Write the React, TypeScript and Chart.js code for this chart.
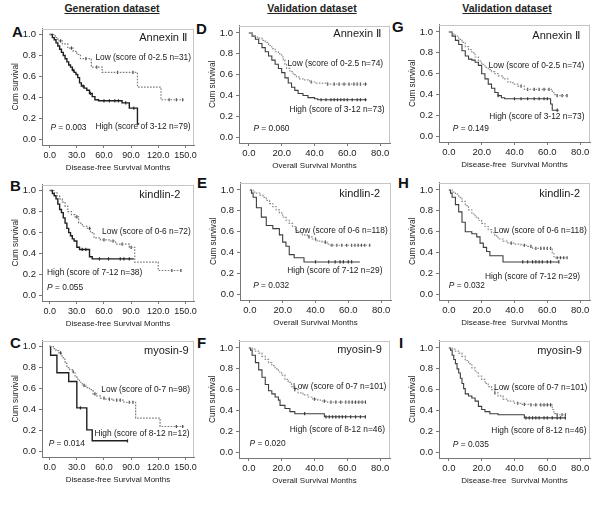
import React, { useEffect, useRef } from "react";
import { Chart, registerables } from "chart.js";

Chart.register(...registerables);

const FONT = 'Arial, "Liberation Sans", Helvetica, sans-serif';

// ---- tick labels ----
const genXTicks = [0, 30, 60, 90, 120, 150];
const valXTicks = [0, 20, 40, 60, 80];
const survTicks = [0, 0.2, 0.4, 0.6, 0.8, 1.0];

// ---- Panel A (Generation, Annexin II) ----
const aLowT = [0, 6, 9, 14, 20, 26, 30, 34, 46, 58, 97, 123, 148];
const aLowS = [1.0, 0.97, 0.94, 0.91, 0.87, 0.84, 0.81, 0.77, 0.69, 0.64, 0.5, 0.38, 0.38];
const aLowC = [12, 24, 40, 52, 75, 92, 132, 140, 147];
const aHighT = [0, 3, 5, 7, 9, 11, 13, 15, 17, 19, 21, 23, 25, 27, 29, 31, 33, 35, 38, 41, 44, 47, 50, 54, 80, 88, 97, 99];
const aHighS = [1.0, 0.97, 0.95, 0.92, 0.89, 0.86, 0.83, 0.8, 0.77, 0.74, 0.71, 0.69, 0.66, 0.64, 0.62, 0.59, 0.54, 0.51, 0.49, 0.47, 0.44, 0.41, 0.38, 0.37, 0.35, 0.3, 0.15, 0.15];
const aHighC = [26, 37, 45, 60, 66, 72, 76, 84, 93];

// ---- Panel B (Generation, kindlin-2) ----
const bLowT = [0, 5, 8, 11, 14, 17, 20, 24, 28, 32, 36, 41, 45, 49, 56, 67, 73, 88, 94, 120, 145];
const bLowS = [1.0, 0.98, 0.95, 0.92, 0.89, 0.85, 0.8, 0.77, 0.75, 0.69, 0.66, 0.64, 0.6, 0.55, 0.53, 0.52, 0.49, 0.46, 0.32, 0.24, 0.24];
const bLowC = [30, 44, 60, 70, 80, 90, 135, 145];
const bHighT = [0, 3, 5, 7, 9, 11, 13, 15, 17, 19, 21, 23, 25, 27, 30, 33, 44, 47, 93];
const bHighS = [1.0, 0.97, 0.95, 0.92, 0.87, 0.82, 0.79, 0.74, 0.69, 0.64, 0.6, 0.57, 0.54, 0.52, 0.46, 0.44, 0.37, 0.35, 0.35];
const bHighC = [36, 40, 55, 65, 78, 82, 88];

// ---- Panel C (Generation, myosin-9) ----
const cLowT = [0, 4, 7, 10, 13, 15, 17, 19, 22, 25, 28, 30, 33, 36, 40, 44, 48, 52, 56, 62, 70, 82, 95, 122, 148];
const cLowS = [1.0, 0.98, 0.96, 0.94, 0.91, 0.88, 0.84, 0.8, 0.78, 0.76, 0.72, 0.69, 0.66, 0.63, 0.61, 0.59, 0.55, 0.53, 0.51, 0.5, 0.49, 0.47, 0.32, 0.24, 0.24];
const cLowC = [12, 26, 38, 50, 60, 66, 74, 78, 88, 92, 140, 147];
const cHighT = [0, 1, 8, 21, 30, 41, 47, 86];
const cHighS = [1.0, 0.917, 0.75, 0.667, 0.417, 0.208, 0.104, 0.104];
const cHighC = [34, 86];

// ---- Panel D (Validation OS, Annexin II) ----
const dLowT = [0, 2, 4, 6, 8, 10, 12, 14, 16, 18, 20, 21, 22, 23, 25, 27, 29, 31, 34, 37, 41, 47, 72];
const dLowS = [1.0, 0.97, 0.96, 0.95, 0.93, 0.91, 0.88, 0.85, 0.82, 0.8, 0.77, 0.74, 0.7, 0.66, 0.63, 0.6, 0.58, 0.56, 0.55, 0.53, 0.52, 0.51, 0.51];
const dLowC = [38, 48, 52, 55, 58, 61, 64, 66, 68, 71];
const dHighT = [0, 2, 4, 6, 8, 10, 12, 14, 16, 18, 20, 22, 24, 26, 28, 30, 33, 36, 40, 42, 72];
const dHighS = [1.0, 0.97, 0.94, 0.9, 0.86, 0.82, 0.78, 0.74, 0.7, 0.66, 0.62, 0.57, 0.52, 0.48, 0.45, 0.42, 0.4, 0.38, 0.37, 0.36, 0.36];
const dHighC = [44, 47, 50, 52, 54, 56, 58, 60, 63, 66, 68, 71];

// ---- Panel E (Validation OS, kindlin-2) ----
const eLowT = [0, 2, 4, 6, 8, 10, 12, 14, 16, 18, 20, 22, 24, 26, 28, 30, 32, 35, 38, 41, 44, 47, 49, 74];
const eLowS = [1.0, 0.98, 0.97, 0.95, 0.93, 0.9, 0.87, 0.84, 0.81, 0.78, 0.74, 0.71, 0.68, 0.65, 0.61, 0.59, 0.57, 0.55, 0.53, 0.51, 0.5, 0.48, 0.47, 0.47];
const eLowC = [36, 40, 46, 50, 53, 56, 59, 62, 64, 66, 68, 70, 73];
const eHighT = [0, 1, 2, 4, 7, 10, 14, 18, 20, 22, 24, 27, 33, 67];
const eHighS = [1.0, 0.97, 0.93, 0.83, 0.74, 0.66, 0.63, 0.57, 0.5, 0.46, 0.38, 0.35, 0.31, 0.31];
const eHighC = [40, 48, 52, 55, 57, 60, 62];

// ---- Panel F (Validation OS, myosin-9) ----
const fLowT = [0, 2, 4, 6, 8, 10, 12, 14, 16, 18, 20, 22, 24, 26, 28, 30, 33, 36, 39, 42, 45, 48, 71];
const fLowS = [1.0, 0.99, 0.97, 0.95, 0.92, 0.89, 0.86, 0.83, 0.8, 0.77, 0.74, 0.7, 0.67, 0.63, 0.6, 0.57, 0.55, 0.53, 0.51, 0.5, 0.49, 0.48, 0.48];
const fLowC = [28, 40, 46, 50, 53, 56, 59, 61, 63, 65, 67, 69, 71];
const fHighT = [0, 1, 2, 4, 6, 8, 10, 12, 14, 16, 18, 19, 22, 25, 28, 46, 71];
const fHighS = [1.0, 0.98, 0.93, 0.86, 0.79, 0.72, 0.65, 0.59, 0.56, 0.53, 0.5, 0.45, 0.42, 0.39, 0.37, 0.34, 0.34];
const fHighC = [34, 47, 49, 51, 53, 55, 57, 59, 62, 65, 68, 71];

// ---- Panel G (Validation DFS, Annexin II) ----
const gLowT = [0, 2, 4, 6, 8, 10, 12, 14, 16, 18, 20, 22, 24, 26, 28, 30, 33, 36, 39, 42, 46, 63, 64, 65, 72];
const gLowS = [1.0, 0.98, 0.96, 0.93, 0.9, 0.86, 0.83, 0.8, 0.76, 0.72, 0.69, 0.66, 0.64, 0.62, 0.6, 0.58, 0.55, 0.52, 0.5, 0.48, 0.45, 0.43, 0.4, 0.39, 0.39];
const gLowC = [44, 48, 52, 55, 58, 61, 66, 69, 72];
const gHighT = [0, 2, 4, 6, 8, 10, 12, 14, 16, 18, 20, 22, 24, 26, 28, 30, 32, 34, 62, 63, 67];
const gHighS = [1.0, 0.96, 0.92, 0.88, 0.82, 0.77, 0.74, 0.73, 0.71, 0.68, 0.6, 0.55, 0.5, 0.46, 0.42, 0.39, 0.37, 0.36, 0.31, 0.25, 0.25];
const gHighC = [30, 40, 44, 48, 52, 55, 58, 60, 66];

// ---- Panel H (Validation DFS, kindlin-2) ----
const hLowT = [0, 2, 4, 6, 8, 10, 12, 14, 16, 18, 20, 22, 24, 26, 28, 30, 33, 36, 40, 44, 48, 51, 63, 64, 65, 72];
const hLowS = [1.0, 0.98, 0.96, 0.93, 0.89, 0.85, 0.81, 0.77, 0.74, 0.71, 0.68, 0.65, 0.62, 0.59, 0.56, 0.53, 0.51, 0.49, 0.48, 0.47, 0.46, 0.44, 0.4, 0.36, 0.35, 0.35];
const hLowC = [38, 46, 50, 53, 56, 58, 60, 62, 66, 68, 70, 72];
const hHighT = [0, 1, 2, 4, 6, 8, 10, 14, 17, 19, 21, 23, 25, 33, 67];
const hHighS = [1.0, 0.97, 0.93, 0.86, 0.79, 0.69, 0.6, 0.58, 0.55, 0.49, 0.45, 0.41, 0.37, 0.31, 0.31];
const hHighC = [45, 48, 51, 53, 55, 57, 60, 62, 67];

// ---- Panel I (Validation DFS, myosin-9) ----
const iLowT = [0, 2, 4, 6, 8, 10, 12, 14, 16, 18, 20, 22, 24, 26, 28, 30, 33, 36, 40, 44, 50, 63, 64, 65, 71];
const iLowS = [1.0, 0.99, 0.97, 0.95, 0.92, 0.88, 0.85, 0.81, 0.77, 0.73, 0.7, 0.66, 0.63, 0.6, 0.57, 0.54, 0.51, 0.49, 0.47, 0.46, 0.455, 0.41, 0.37, 0.36, 0.36];
const iLowC = [28, 42, 46, 50, 53, 56, 58, 60, 62, 66, 69, 71];
const iHighT = [0, 1, 2, 3, 4, 5, 6, 7, 8, 9, 10, 12, 14, 16, 18, 20, 22, 25, 30, 46, 71];
const iHighS = [1.0, 0.98, 0.93, 0.89, 0.85, 0.8, 0.76, 0.71, 0.66, 0.61, 0.56, 0.54, 0.52, 0.49, 0.44, 0.41, 0.39, 0.37, 0.36, 0.33, 0.33];
const iHighC = [47, 49, 51, 53, 55, 58, 60, 63, 66, 68, 71];

type Pos = [number, number];
interface PanelDef {
  letter: string;
  gen: boolean;
  xTitle: string;
  lowT: number[]; lowS: number[]; lowC: number[];
  highT: number[]; highS: number[]; highC: number[];
  gene: string; lowLabel: string; highLabel: string; pText: string;
  L: number; T: number;
  letterLeft: number; letterTop: number;
  genePos: Pos; lowPos: Pos; highPos: Pos; pPos: Pos;
}

const panels: PanelDef[] = [
  { letter: "A", gen: true, xTitle: "Disease-free Survival Months", lowT: aLowT, lowS: aLowS, lowC: aLowC, highT: aHighT, highS: aHighS, highC: aHighC,
    gene: "Annexin \u2161", lowLabel: "Low (score of 0-2.5 n=31)", highLabel: "High (score of 3-12 n=79)", pText: "P = 0.003",
    L: 42, T: 28, letterLeft: 12, letterTop: 24, genePos: [151.8, 0.97], lowPos: [50.5, 0.78], highPos: [50.5, 0.125], pPos: [0.8, 0.11] },
  { letter: "B", gen: true, xTitle: "Disease-free Survival Months", lowT: bLowT, lowS: bLowS, lowC: bLowC, highT: bHighT, highS: bHighS, highC: bHighC,
    gene: "kindlin-2", lowLabel: "Low (score of 0-6 n=72)", highLabel: "High (score of 7-12 n=38)", pText: "P = 0.055",
    L: 42, T: 184, letterLeft: 10, letterTop: 178, genePos: [144.4, 0.96], lowPos: [57.9, 0.605], highPos: [-2.9, 0.22], pPos: [-2.9, 0.073] },
  { letter: "C", gen: true, xTitle: "Disease-free Survival Months", lowT: cLowT, lowS: cLowS, lowC: cLowC, highT: cHighT, highS: cHighS, highC: cHighC,
    gene: "myosin-9", lowLabel: "Low (score of 0-7 n=98)", highLabel: "High (score of 8-12 n=12)", pText: "P = 0.014",
    L: 42, T: 340, letterLeft: 10, letterTop: 335, genePos: [153.6, 0.96], lowPos: [57.1, 0.593], highPos: [49.4, 0.167], pPos: [-1.1, 0.079] },
  { letter: "D", gen: false, xTitle: "Overall Survival Months", lowT: dLowT, lowS: dLowS, lowC: dLowC, highT: dHighT, highS: dHighS, highC: dHighC,
    gene: "Annexin \u2161", lowLabel: "Low (score of 0-2.5 n=74)", highLabel: "High (score of 3-12 n=73)", pText: "P = 0.060",
    L: 239, T: 25, letterLeft: 196, letterTop: 21, genePos: [80.6, 0.99], lowPos: [23.5, 0.705], highPos: [24.7, 0.26], pPos: [2.8, 0.079] },
  { letter: "E", gen: false, xTitle: "Overall Survival Months", lowT: eLowT, lowS: eLowS, lowC: eLowC, highT: eHighT, highS: eHighS, highC: eHighC,
    gene: "kindlin-2", lowLabel: "Low (score of 0-6 n=118)", highLabel: "High (score of 7-12 n=29)", pText: "P = 0.032",
    L: 240, T: 182, letterLeft: 197, letterTop: 175, genePos: [79.4, 0.965], lowPos: [27.5, 0.613], highPos: [22.8, 0.226], pPos: [2.0, 0.085] },
  { letter: "F", gen: false, xTitle: "Overall Survival Months", lowT: fLowT, lowS: fLowS, lowC: fLowC, highT: fHighT, highS: fHighS, highC: fHighC,
    gene: "myosin-9", lowLabel: "Low (score of 0-7 n=101)", highLabel: "High (score of 8-12 n=46)", pText: "P = 0.020",
    L: 239, T: 340, letterLeft: 197, letterTop: 335, genePos: [81, 0.98], lowPos: [26.9, 0.627], highPos: [24.9, 0.22], pPos: [0.4, 0.079] },
  { letter: "G", gen: false, xTitle: "Disease-free  Survival Months", lowT: gLowT, lowS: gLowS, lowC: gLowC, highT: gHighT, highS: gHighS, highC: gHighC,
    gene: "Annexin \u2161", lowLabel: "Low (score of 0-2.5 n=74)", highLabel: "High (score of 3-12 n=73)", pText: "P = 0.149",
    L: 439, T: 24, letterLeft: 392, letterTop: 19, genePos: [80, 0.96], lowPos: [24.2, 0.678], highPos: [24.6, 0.19], pPos: [2.4, 0.075] },
  { letter: "H", gen: false, xTitle: "Disease-free  Survival Months", lowT: hLowT, lowS: hLowS, lowC: hLowC, highT: hHighT, highS: hHighS, highC: hHighC,
    gene: "kindlin-2", lowLabel: "Low (score of 0-6 n=118)", highLabel: "High (score of 7-12 n=29)", pText: "P = 0.032",
    L: 439, T: 182, letterLeft: 398, letterTop: 175, genePos: [80, 0.96], lowPos: [27.5, 0.607], highPos: [22, 0.165], pPos: [0, 0.087] },
  { letter: "I", gen: false, xTitle: "Disease-free  Survival Months", lowT: iLowT, lowS: iLowS, lowC: iLowC, highT: iHighT, highS: iHighS, highC: iHighC,
    gene: "myosin-9", lowLabel: "Low (score of 0-7 n=101)", highLabel: "High (score of 8-12 n=46)", pText: "P = 0.035",
    L: 439, T: 340, letterLeft: 399, letterTop: 335, genePos: [81, 0.97], lowPos: [27.5, 0.619], highPos: [25.9, 0.21], pPos: [2.4, 0.073] },
];

const headers = [
  { text: "Generation dataset", center: 112 },
  { text: "Validation dataset", center: 312 },
  { text: "Validation dataset", center: 507 },
];

// layout constants
const AXIS_W = 42;
const AXIS_H = 30;
const PAD_T = 8;
const PAD_R = 8;

function stepValue(T: number[], S: number[], t: number): number {
  let v = S[0];
  for (let i = 0; i < T.length; i++) if (T[i] <= t) v = S[i];
  return v;
}

function KMPanel({ p }: { p: PanelDef }) {
  const ref = useRef<HTMLCanvasElement | null>(null);
  const boxW = p.gen ? 152 : 151;
  const boxH = p.gen ? 117 : 118;
  const W = AXIS_W + boxW + PAD_R;
  const H = PAD_T + boxH + AXIS_H;

  useEffect(() => {
    const canvas = ref.current;
    if (!canvas) return;
    const xMin = p.gen ? -8.5 : -6;
    const xMax = p.gen ? 159.5 : 86;
    const yMin = p.gen ? -0.05 : -0.055;
    const yMax = p.gen ? 1.055 : 1.07;
    const xTicks = p.gen ? genXTicks : valXTicks;

    const overlay = {
      id: "kmOverlay",
      beforeDatasetsDraw(chart: any) {
        const { ctx, chartArea: a } = chart;
        ctx.save();
        ctx.strokeStyle = "#c6c6c6";
        ctx.lineWidth = 1;
        ctx.beginPath();
        ctx.moveTo(a.left, Math.round(a.top) + 0.5);
        ctx.lineTo(a.right, Math.round(a.top) + 0.5);
        ctx.moveTo(Math.round(a.right) - 0.5, a.top);
        ctx.lineTo(Math.round(a.right) - 0.5, a.bottom);
        ctx.stroke();
        ctx.restore();
      },
      afterDatasetsDraw(chart: any) {
        const { ctx } = chart;
        const xs = chart.scales.x;
        const ys = chart.scales.y;
        ctx.save();
        ctx.fillStyle = "#1a1a1a";
        ctx.textBaseline = "middle";
        const put = (txt: string, pos: Pos, align: CanvasTextAlign, size: number) => {
          ctx.font = `${size}px ${FONT}`;
          ctx.textAlign = align;
          ctx.fillText(txt, xs.getPixelForValue(pos[0]), ys.getPixelForValue(pos[1]));
        };
        put(p.gene, p.genePos, "right", 11);
        put(p.lowLabel, p.lowPos, "left", 8.4);
        put(p.highLabel, p.highPos, "left", 8.4);
        // P value with italic P
        const px = xs.getPixelForValue(p.pPos[0]);
        const py = ys.getPixelForValue(p.pPos[1]);
        ctx.textAlign = "left";
        ctx.font = `italic 8.4px ${FONT}`;
        ctx.fillText(p.pText.charAt(0), px, py);
        const w = ctx.measureText(p.pText.charAt(0)).width;
        ctx.font = `8.4px ${FONT}`;
        ctx.fillText(p.pText.slice(1), px + w, py);
        ctx.restore();
      },
    };

    const lowPts = p.lowT.map((t, i) => ({ x: t, y: p.lowS[i] }));
    const highPts = p.highT.map((t, i) => ({ x: t, y: p.highS[i] }));
    const lowCens = p.lowC.map((t) => ({ x: t, y: stepValue(p.lowT, p.lowS, t) }));
    const highCens = p.highC.map((t) => ({ x: t, y: stepValue(p.highT, p.highS, t) }));

    const chart = new Chart(canvas, {
      type: "line",
      data: {
        datasets: [
          {
            data: lowPts as any,
            stepped: true,
            borderColor: p.gen ? "#7a7a7a" : "#8c8c8c",
            borderWidth: 1.2,
            borderDash: [1.6, 1.4],
            pointRadius: 0,
            fill: false,
          },
          {
            data: highPts as any,
            stepped: true,
            borderColor: p.gen ? "#1e1e1e" : "#3e3e3e",
            borderWidth: p.gen ? 1.4 : 1.1,
            pointRadius: 0,
            fill: false,
          },
          {
            data: lowCens as any,
            showLine: false,
            pointStyle: "line",
            rotation: 90,
            pointRadius: 1.6,
            pointBorderWidth: 1.2,
            pointBorderColor: "#444",
            borderColor: "#444",
          },
          {
            data: highCens as any,
            showLine: false,
            pointStyle: "line",
            rotation: 90,
            pointRadius: 1.6,
            pointBorderWidth: 1.2,
            pointBorderColor: "#333",
            borderColor: "#333",
          },
        ],
      },
      options: {
        animation: false,
        responsive: false,
        maintainAspectRatio: false,
        events: [],
        layout: { padding: { top: PAD_T, right: PAD_R, left: 0, bottom: 0 } },
        plugins: { legend: { display: false }, tooltip: { enabled: false } },
        scales: {
          x: {
            type: "linear",
            min: xMin,
            max: xMax,
            afterBuildTicks: (scale: any) => {
              scale.ticks = xTicks.map((v) => ({ value: v }));
            },
            afterFit: (scale: any) => {
              scale.height = AXIS_H;
            },
            ticks: {
              autoSkip: false,
              maxRotation: 0,
              padding: 2,
              color: "#222",
              font: { family: FONT, size: p.gen ? 9 : 9.5 },
              callback: (v: any) => Number(v).toFixed(1),
            },
            grid: { drawOnChartArea: false, drawTicks: true, tickLength: 3, color: "#777" },
            border: { display: true, color: "#777", width: 1 },
            title: {
              display: true,
              text: p.xTitle,
              color: "#222",
              font: { family: FONT, size: 8 },
              padding: { top: 0, bottom: 2.4 },
            },
          },
          y: {
            type: "linear",
            min: yMin,
            max: yMax,
            afterBuildTicks: (scale: any) => {
              scale.ticks = survTicks.map((v) => ({ value: v }));
            },
            afterFit: (scale: any) => {
              scale.width = AXIS_W;
            },
            ticks: {
              autoSkip: false,
              padding: 3,
              color: "#222",
              font: { family: FONT, size: 9.5 },
              callback: (v: any) => Number(v).toFixed(1),
            },
            grid: { drawOnChartArea: false, drawTicks: true, tickLength: 3, color: "#777" },
            border: { display: true, color: "#777", width: 1 },
            title: {
              display: true,
              text: "Cum survival",
              color: "#222",
              font: { family: FONT, size: 8.2 },
              padding: { top: 11, bottom: 0 },
            },
          },
        },
      },
      plugins: [overlay],
    } as any);
    return () => chart.destroy();
  }, []);

  return (
    <canvas
      ref={ref}
      width={W}
      height={H}
      style={{ position: "absolute", left: p.L - AXIS_W, top: p.T - PAD_T, width: W, height: H }}
    />
  );
}

export default function App() {
  return (
    <div
      style={{
        position: "absolute",
        left: 0,
        top: 0,
        width: 600,
        height: 512,
        background: "#fff",
        overflow: "hidden",
        fontFamily: FONT,
      }}
    >
      {headers.map((h, i) => (
        <div
          key={"h" + i}
          style={{
            position: "absolute",
            left: h.center - 70,
            width: 140,
            top: 2,
            textAlign: "center",
            fontSize: 10.5,
            lineHeight: "13px",
            fontWeight: "bold",
            color: "#222",
            textDecoration: "underline",
          }}
        >
          {h.text}
        </div>
      ))}
      {panels.map((p) => (
        <div
          key={"l" + p.letter}
          style={{
            position: "absolute",
            left: p.letterLeft,
            top: p.letterTop,
            fontSize: 15,
            lineHeight: "15px",
            fontWeight: "bold",
            color: "#111",
          }}
        >
          {p.letter}
        </div>
      ))}
      {panels.map((p) => (
        <KMPanel key={p.letter} p={p} />
      ))}
    </div>
  );
}
